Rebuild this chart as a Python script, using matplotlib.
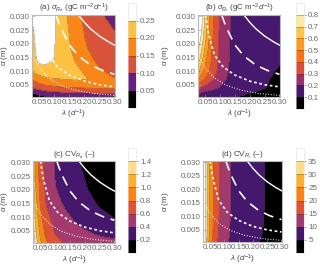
import numpy as np
import matplotlib
matplotlib.use("Agg")
import matplotlib.pyplot as plt
from matplotlib.colors import ListedColormap, BoundaryNorm
from matplotlib.cm import ScalarMappable

plt.rcParams['font.family'] = ['Liberation Sans', 'DejaVu Sans']
plt.rcParams['mathtext.fontset'] = 'custom'
plt.rcParams['mathtext.rm'] = 'Liberation Sans'
plt.rcParams['mathtext.it'] = 'Liberation Sans:italic'
plt.rcParams['mathtext.bf'] = 'Liberation Sans:bold'

# grid (lambda in 1/d, alpha in m)
lam = [0.025, 0.035, 0.05, 0.07, 0.10, 0.13, 0.17, 0.21, 0.25, 0.30]
alpha = [0.0005, 0.002, 0.004, 0.007, 0.010, 0.014, 0.018, 0.022, 0.026, 0.0305]

# (a) sigma R_d, rows = alpha (bottom to top)
sig_rd = [
    [0.012, 0.022, 0.033, 0.043, 0.055, 0.062, 0.068, 0.072, 0.075, 0.077],
    [0.045, 0.058, 0.070, 0.080, 0.088, 0.093, 0.097, 0.100, 0.102, 0.103],
    [0.098, 0.110, 0.122, 0.133, 0.142, 0.147, 0.152, 0.157, 0.160, 0.160],
    [0.153, 0.165, 0.178, 0.190, 0.197, 0.200, 0.206, 0.201, 0.180, 0.152],
    [0.200, 0.215, 0.226, 0.232, 0.232, 0.225, 0.210, 0.190, 0.155, 0.138],
    [0.222, 0.243, 0.262, 0.263, 0.249, 0.228, 0.197, 0.163, 0.139, 0.122],
    [0.226, 0.249, 0.275, 0.272, 0.250, 0.222, 0.186, 0.151, 0.130, 0.115],
    [0.232, 0.252, 0.285, 0.280, 0.254, 0.220, 0.180, 0.142, 0.123, 0.106],
    [0.242, 0.262, 0.295, 0.285, 0.255, 0.218, 0.174, 0.137, 0.115, 0.097],
    [0.262, 0.285, 0.300, 0.290, 0.255, 0.214, 0.167, 0.127, 0.105, 0.085],
]

# (b) sigma R_r
sig_rr = [
    [0.16, 0.14, 0.13, 0.12, 0.112, 0.104, 0.096, 0.090, 0.085, 0.080],
    [0.24, 0.195, 0.175, 0.16, 0.14, 0.125, 0.11, 0.098, 0.09, 0.08],
    [0.37, 0.30, 0.27, 0.24, 0.195, 0.16, 0.13, 0.115, 0.102, 0.085],
    [0.52, 0.45, 0.39, 0.32, 0.24, 0.18, 0.14, 0.12, 0.105, 0.09],
    [0.64, 0.56, 0.46, 0.37, 0.26, 0.195, 0.15, 0.125, 0.11, 0.095],
    [0.76, 0.65, 0.52, 0.40, 0.27, 0.20, 0.155, 0.13, 0.115, 0.105],
    [0.82, 0.73, 0.58, 0.41, 0.27, 0.20, 0.16, 0.135, 0.125, 0.115],
    [0.90, 0.79, 0.62, 0.43, 0.275, 0.202, 0.16, 0.14, 0.13, 0.12],
    [0.97, 0.84, 0.65, 0.44, 0.28, 0.205, 0.165, 0.145, 0.135, 0.125],
    [1.00, 0.86, 0.67, 0.45, 0.28, 0.205, 0.17, 0.15, 0.14, 0.13],
]

# (c) CV R_d
cv_rd = [
    [1.60, 1.32, 1.05, 0.83, 0.69, 0.58, 0.53, 0.49, 0.46, 0.43],
    [1.55, 1.26, 1.00, 0.79, 0.64, 0.56, 0.51, 0.47, 0.43, 0.40],
    [1.50, 1.22, 0.95, 0.74, 0.59, 0.53, 0.47, 0.42, 0.37, 0.33],
    [1.45, 1.18, 0.90, 0.70, 0.56, 0.49, 0.41, 0.34, 0.29, 0.24],
    [1.38, 1.12, 0.85, 0.64, 0.54, 0.45, 0.36, 0.30, 0.25, 0.19],
    [1.38, 1.08, 0.80, 0.60, 0.49, 0.39, 0.32, 0.25, 0.19, 0.16],
    [1.35, 1.03, 0.74, 0.57, 0.43, 0.35, 0.29, 0.21, 0.17, 0.14],
    [1.32, 0.98, 0.72, 0.55, 0.40, 0.33, 0.26, 0.19, 0.15, 0.13],
    [1.30, 0.95, 0.70, 0.54, 0.39, 0.32, 0.24, 0.17, 0.14, 0.12],
    [1.30, 0.93, 0.67, 0.52, 0.38, 0.31, 0.22, 0.16, 0.13, 0.11],
]

# (d) CV R_r
cv_rr = [
    [44.0, 31.5, 22.0, 15.7, 11.0, 8.5, 6.5, 5.2, 4.4, 3.7],
    [45.5, 32.5, 22.8, 16.3, 11.4, 8.8, 6.8, 5.4, 4.6, 3.8],
    [46.5, 33.3, 23.3, 16.6, 11.6, 8.9, 6.9, 5.5, 4.6, 3.9],
    [47.0, 33.6, 23.5, 16.8, 11.8, 9.0, 7.0, 5.6, 4.7, 3.9],
    [47.5, 33.9, 23.7, 16.9, 11.9, 9.1, 7.0, 5.6, 4.7, 4.0],
    [47.8, 34.1, 23.9, 17.0, 11.9, 9.2, 7.1, 5.7, 4.8, 4.0],
    [48.0, 34.3, 24.0, 17.1, 12.0, 9.2, 7.1, 5.7, 4.8, 4.0],
    [48.0, 34.3, 24.0, 17.1, 12.0, 9.2, 7.1, 5.7, 4.8, 4.0],
    [48.0, 34.3, 24.0, 17.1, 12.0, 9.2, 7.1, 5.7, 4.8, 4.0],
    [48.0, 34.3, 24.0, 17.1, 12.0, 9.2, 7.1, 5.7, 4.8, 4.0],
]

# white reference curves
solid_lam = [0.18, 0.20, 0.22, 0.25, 0.28, 0.30]
solid_alpha = [0.0305, 0.0278, 0.0255, 0.0228, 0.0207, 0.0195]
dash_lam = [0.105, 0.12, 0.15, 0.18, 0.22, 0.26, 0.30]
dash_alpha = [0.0305, 0.026, 0.0195, 0.0155, 0.0122, 0.0102, 0.0088]
sdash_lam = [0.05, 0.06, 0.08, 0.11, 0.15, 0.20, 0.25, 0.30]
sdash_alpha = [0.0305, 0.024, 0.016, 0.0115, 0.0085, 0.0063, 0.0050, 0.0042]
dot_lam = [0.03, 0.05, 0.08, 0.12, 0.17, 0.23, 0.30]
dot_alpha = [0.015, 0.011, 0.0075, 0.0048, 0.0030, 0.0018, 0.0011]

lev_a = [0, 0.05, 0.10, 0.15, 0.20, 0.25, 0.30]
lev_b = [0, 0.1, 0.2, 0.3, 0.4, 0.5, 0.6, 0.7, 0.8, 0.9]
lev_c = [0, 0.2, 0.4, 0.6, 0.8, 1.0, 1.2, 1.4, 1.6]
lev_d = [0, 5, 10, 15, 20, 25, 30, 35, 40]

col_a = ['#000000', '#64207a', '#d9523a', '#fa861a', '#fec243', '#ffffff']
col_b = ['#000000', '#46186e', '#9c3068', '#d8503c', '#f6731a', '#fb9b24',
         '#fdc447', '#fee9a0', '#ffffff']
col_c = ['#000000', '#45186e', '#a33a6e', '#de5336', '#f98318', '#fdb02c',
         '#fddd88', '#ffffff']
col_d = col_c

titles = [r'(a) $\sigma_{R_d}$ (gC m$^{-2}$$d^{-1}$)',
          r'(b) $\sigma_{R_r}$ (gC m$^{-2}$$d^{-1}$)',
          r'(c) CV$_{R_d}$ (–)',
          r'(d) CV$_{R_r}$ (–)']
cb_fmt = ['%.2f', '%.1f', '%.1f', '%d']

W, H = 320, 266
fig = plt.figure(figsize=(W / 100, H / 100), dpi=100)

def fr(x0, y0, x1, y1):
    return [x0 / W, 1 - y1 / H, (x1 - x0) / W, (y1 - y0) / H]

ax_boxes = [fr(32, 15, 115, 97), fr(198, 15, 280, 97),
            fr(33, 161, 115, 243), fr(203, 161, 282, 242)]
cb_boxes = [fr(127.5, 3, 136, 108), fr(296, 3, 304, 109),
            fr(127.5, 148, 136, 253), fr(296, 148, 304, 253)]
ylab_x = [10, 171, 10, 171]

gray = '#6a6a6a'
fs = 5.8
X, Y = np.meshgrid(lam, alpha)

panels = [(sig_rd, lev_a, col_a), (sig_rr, lev_b, col_b),
          (cv_rd, lev_c, col_c), (cv_rr, lev_d, col_d)]

for i, (Z, lev, cols) in enumerate(panels):
    Z = np.array(Z)
    ax = fig.add_axes(ax_boxes[i])
    fill_lev = lev[:-1] + [1e3]
    ax.contourf(X, Y, Z, levels=fill_lev, colors=cols)
    ax.contour(X, Y, Z, levels=lev[1:-1], colors='#3a2a20', linewidths=0.4, alpha=0.55)

    ax.plot(solid_lam, solid_alpha, color='white', lw=1.0)
    ax.plot(dash_lam, dash_alpha, color='white', lw=1.2, dashes=(6, 4))
    ax.plot(sdash_lam, sdash_alpha, color='white', lw=1.2, dashes=(1.6, 1.6))
    ax.plot(dot_lam, dot_alpha, color='white', lw=0.8, dashes=(0.8, 1.6))

    ax.set_xlim(0.025, 0.302)
    ax.set_ylim(0.0005, 0.0305)
    ax.set_xticks([0.05, 0.10, 0.15, 0.20, 0.25, 0.30])
    ax.set_xticklabels(['0.05', '0.10', '0.15', '0.20', '0.25', '0.30'])
    ax.set_yticks([0.005, 0.010, 0.015, 0.020, 0.025, 0.030])
    ax.set_yticklabels(['0.005', '0.010', '0.015', '0.020', '0.025', '0.030'])
    ax.tick_params(direction='in', length=2, width=0.4, colors='#999999',
                   labelcolor=gray, labelsize=fs, pad=1.5)
    for s in ax.spines.values():
        s.set_color('#b8b8b8')
        s.set_linewidth(0.8)
    ax.set_title(titles[i], fontsize=fs, color='#444444', pad=3)
    ax.set_xlabel(r'$\lambda$ ($d^{-1}$)', fontsize=fs, color='#444444', labelpad=1)
    ax.set_ylabel(r'$\alpha$ (m)', fontsize=fs, color='#444444')
    bx = ax_boxes[i]
    ax.yaxis.set_label_coords((ylab_x[i] / W - bx[0]) / bx[2], 0.5)

    cax = fig.add_axes(cb_boxes[i])
    sm = ScalarMappable(norm=BoundaryNorm(lev, len(cols)), cmap=ListedColormap(cols))
    cb = fig.colorbar(sm, cax=cax)
    cb.set_ticks(lev[1:-1])
    cb.set_ticklabels([cb_fmt[i] % v for v in lev[1:-1]])
    cb.minorticks_off()
    cb.outline.set_edgecolor('#e0e0e0')
    cb.outline.set_linewidth(0.4)
    for v in lev[1:-1]:
        cax.axhline(v, color='#3a2a20', lw=0.4, alpha=0.55)
    cax.tick_params(length=1.5, width=0.4, colors='#555555', labelcolor=gray,
                    labelsize=fs, pad=1.5)

fig.savefig('out.png', dpi=100)
